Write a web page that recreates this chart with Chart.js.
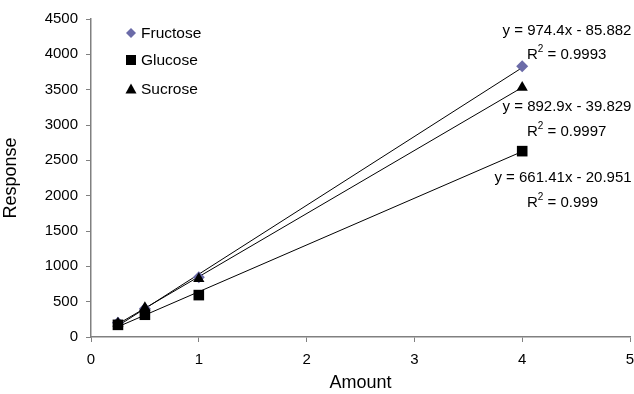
<!DOCTYPE html>
<html>
<head>
<meta charset="utf-8">
<script src="https://cdn.jsdelivr.net/npm/chart.js@4/dist/chart.umd.min.js"></script>
<style>
  html, body { margin: 0; padding: 0; background: #ffffff; }
  #wrap { width: 634px; height: 394px; position: relative; }
</style>
</head>
<body>
<div id="wrap"><canvas id="c" width="634" height="394"></canvas></div>
<script>
// ---- data ----
const amounts = [0.25, 0.5, 1, 4];
const fructose = [200, 400, 845, 3830];
const glucose = [172, 315, 593, 2630];
const sucrose = [195, 415, 825, 3530];
const seriesNames = ['Fructose', 'Glucose', 'Sucrose'];
// trendline equations shown on the chart
const slopes = [974.4, 661.41, 892.9];
const intercepts = [-85.882, -20.951, -39.829];
const eqLabels = ['y = 974.4x - 85.882', 'y = 661.41x - 20.951', 'y = 892.9x - 39.829'];
const r2Labels = ['0.9993', '0.999', '0.9997'];
const xTicks = [0, 1, 2, 3, 4, 5];
const yTicks = [0, 500, 1000, 1500, 2000, 2500, 3000, 3500, 4000, 4500];

const FONT = "'Liberation Sans', Arial, sans-serif";
const pts = (vals) => amounts.map((x, i) => ({x: x, y: vals[i]}));
const trend = (k) => [amounts[0], amounts[amounts.length - 1]].map(x => ({x: x, y: slopes[k] * x + intercepts[k]}));

const markerColors = ['#6b6ba8', '#000000', '#000000'];
const markerStyles = ['rectRot', 'rect', 'triangle'];
const markerRadius = [6, 7.5, 6.5];
const seriesVals = [fructose, glucose, sucrose];

const datasets = [];
for (let k = 0; k < 3; k++) {
  datasets.push({
    label: 'trend ' + seriesNames[k],
    data: trend(k),
    showLine: true,
    borderColor: '#000000',
    borderWidth: 1,
    pointRadius: 0,
    order: 10
  });
}
for (let k = 0; k < 3; k++) {
  datasets.push({
    label: seriesNames[k],
    data: pts(seriesVals[k]),
    showLine: false,
    pointStyle: markerStyles[k],
    pointRadius: markerRadius[k],
    pointBackgroundColor: markerColors[k],
    pointBorderColor: markerColors[k],
    pointBorderWidth: 0,
    order: 5 - k
  });
}

const annot = {
  id: 'annot',
  afterDatasetsDraw(chart) {
    const ctx = chart.ctx;
    ctx.save();
    const legY = [33, 60, 89];
    const legX = 131;
    ctx.font = '15.5px ' + FONT;
    ctx.textBaseline = 'middle';
    ctx.textAlign = 'left';
    for (let k = 0; k < 3; k++) {
      ctx.fillStyle = markerColors[k];
      const y = legY[k];
      if (markerStyles[k] === 'rectRot') {
        ctx.beginPath();
        ctx.moveTo(legX, y - 5); ctx.lineTo(legX + 5, y); ctx.lineTo(legX, y + 5); ctx.lineTo(legX - 5, y);
        ctx.closePath(); ctx.fill();
      } else if (markerStyles[k] === 'rect') {
        ctx.fillRect(legX - 5, y - 5, 10, 10);
      } else {
        ctx.beginPath();
        ctx.moveTo(legX, y - 5.5); ctx.lineTo(legX + 5.5, y + 4.5); ctx.lineTo(legX - 5.5, y + 4.5);
        ctx.closePath(); ctx.fill();
      }
      ctx.fillStyle = '#000000';
      ctx.fillText(seriesNames[k], legX + 10, y + 1);
    }
    const eqPos = [[567, 31, 55], [563, 178, 203], [567, 107, 132]];
    for (let k = 0; k < 3; k++) {
      const [cx, y1, y2] = eqPos[k];
      ctx.font = '15px ' + FONT;
      ctx.textAlign = 'center';
      ctx.textBaseline = 'middle';
      ctx.fillStyle = '#000000';
      ctx.fillText(eqLabels[k], cx, y1);
      ctx.textAlign = 'left';
      const left = 527;
      ctx.fillText('R', left, y2);
      const rw = ctx.measureText('R').width;
      ctx.font = '10px ' + FONT;
      ctx.fillText('2', left + rw, y2 - 6);
      const sw = ctx.measureText('2').width;
      ctx.font = '15px ' + FONT;
      ctx.fillText(' = ' + r2Labels[k], left + rw + sw, y2);
    }
    ctx.restore();
  }
};

new Chart(document.getElementById('c'), {
  type: 'scatter',
  data: { datasets: datasets },
  plugins: [annot],
  options: {
    responsive: false,
    animation: false,
    devicePixelRatio: 1,
    layout: { autoPadding: false, padding: { top: 19, right: 4, left: 0, bottom: 0 } },
    plugins: {
      legend: { display: false },
      tooltip: { enabled: false }
    },
    scales: {
      x: {
        type: 'linear',
        min: 0, max: 5,
        afterBuildTicks: (ax) => { ax.ticks = xTicks.map(v => ({value: v})); },
        afterFit: (ax) => { ax.height = 57; ax.paddingRight = 0; ax.paddingLeft = 0; },
        grid: { drawOnChartArea: false, drawTicks: true, tickLength: 5, color: '#808080', lineWidth: 1 },
        border: { color: '#808080', width: 1.5 },
        ticks: { color: '#000000', font: { family: FONT, size: 15 }, padding: 9, maxRotation: 0,
                 callback: (v) => String(v) },
        title: { display: true, text: 'Amount', color: '#000000', font: { family: FONT, size: 18 }, padding: { top: 2, bottom: 0 } }
      },
      y: {
        type: 'linear',
        min: 0, max: 4500,
        afterBuildTicks: (ax) => { ax.ticks = yTicks.map(v => ({value: v})); },
        afterFit: (ax) => { ax.width = 91; ax.paddingTop = 0; ax.paddingBottom = 0; },
        grid: { drawOnChartArea: false, drawTicks: true, tickLength: 5, color: '#808080', lineWidth: 1 },
        border: { color: '#808080', width: 1.5 },
        ticks: { color: '#000000', font: { family: FONT, size: 15 }, padding: 8,
                 callback: (v) => String(v) },
        title: { display: true, text: 'Response', color: '#000000', font: { family: FONT, size: 18 }, padding: { top: 0, bottom: 0 } }
      }
    }
  }
});
</script>
</body>
</html>
